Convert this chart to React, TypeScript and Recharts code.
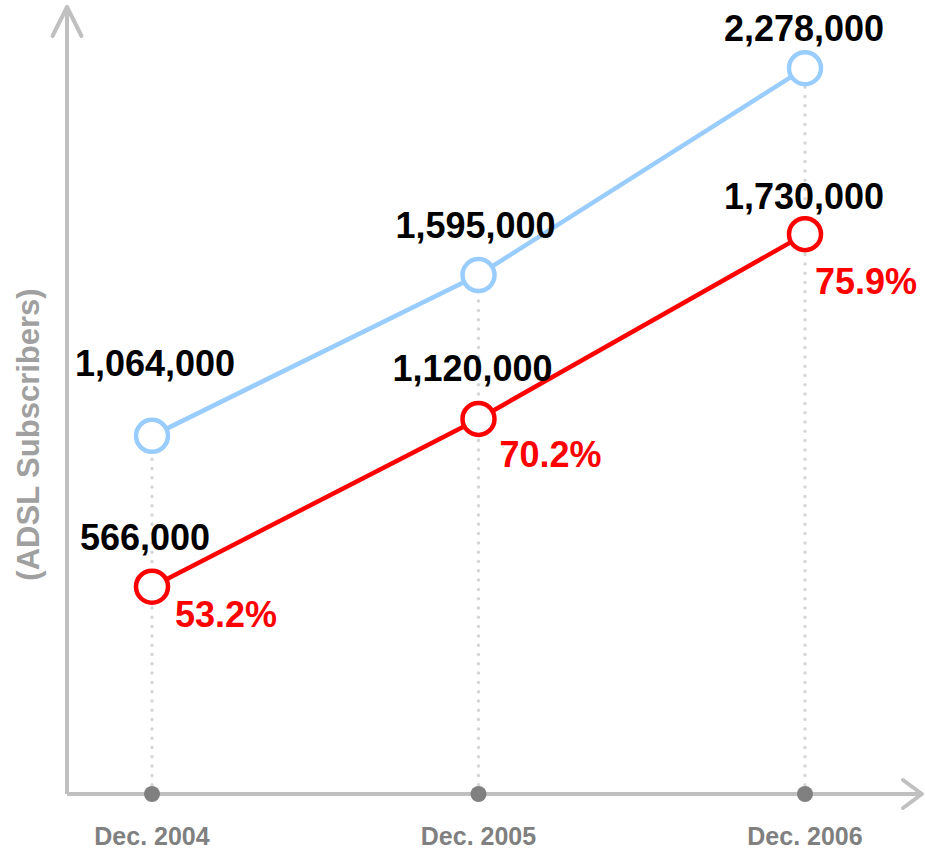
import React from 'react';
import { LineChart, Line, XAxis, YAxis, ReferenceLine, ReferenceDot } from 'recharts';

// ---- data ----
const categories = ['Dec. 2004', 'Dec. 2005', 'Dec. 2006'];
const totalSubscribers = [1064000, 1595000, 2278000];
const adslSubscribers = [566000, 1120000, 1730000];
const adslShare = ['53.2%', '70.2%', '75.9%'];
const yAxisTitle = '(ADSL Subscribers)';

// axis domain (value at x-axis line, value at top of y-axis)
const Y_MIN = -118500;
const Y_MAX = 2480000;

// label offsets relative to each point
const totalLabelOffsets = [
  { dx: 3, dy: -60 },
  { dx: -3, dy: -37 },
  { dx: -1, dy: -27 },
];
const adslLabelOffsets = [
  { dx: -7, dy: -37 },
  { dx: -6, dy: -38 },
  { dx: -1, dy: -25 },
];
const shareLabelOffsets = [
  { dx: 23, dy: 40 },
  { dx: 21, dy: 48 },
  { dx: 10, dy: 60 },
];

const data = categories.map((cat, i) => ({
  cat,
  total: totalSubscribers[i],
  adsl: adslSubscribers[i],
  share: adslShare[i],
}));

const FONT = '"Liberation Sans", Arial, Helvetica, sans-serif';
const BLUE = '#99ccff';
const RED = '#ff0000';
const AXIS = '#c0c0c0';

const fmt = (v: number) => v.toLocaleString('en-US');

const valueStyle = { fontFamily: FONT, fontWeight: 700, fontSize: 36, fill: '#000' } as const;
const shareStyle = { fontFamily: FONT, fontWeight: 700, fontSize: 36, fill: RED } as const;

const renderTotalDot = (props: any) => {
  const { cx, cy, index, value } = props;
  const o = totalLabelOffsets[index];
  return (
    <g key={`t${index}`}>
      <circle cx={cx} cy={cy} r={16} fill="#fff" stroke={BLUE} strokeWidth={4.5} />
      <text x={cx + o.dx} y={cy + o.dy} textAnchor="middle" style={valueStyle}>
        {fmt(value)}
      </text>
    </g>
  );
};

const renderAdslDot = (props: any) => {
  const { cx, cy, index, value, payload } = props;
  const o = adslLabelOffsets[index];
  const s = shareLabelOffsets[index];
  return (
    <g key={`a${index}`}>
      <circle cx={cx} cy={cy} r={16} fill="#fff" stroke={RED} strokeWidth={4.5} />
      <text x={cx + o.dx} y={cy + o.dy} textAnchor="middle" style={valueStyle}>
        {fmt(value)}
      </text>
      <text x={cx + s.dx} y={cy + s.dy} textAnchor="start" style={shareStyle}>
        {payload.share}
      </text>
    </g>
  );
};

const CategoryTick = (props: any) => {
  const { x, y, payload } = props;
  return (
    <text
      x={x}
      y={y + 51}
      textAnchor="middle"
      style={{ fontFamily: FONT, fontWeight: 700, fontSize: 25, fill: '#808080' }}
    >
      {payload.value}
    </text>
  );
};

const YLabel = (props: any) => {
  const vb = props.viewBox || { x: 0, y: 7, width: 67, height: 787 };
  const x = vb.x + 28;
  const y = vb.y + vb.height / 2 + 34;
  return (
    <text
      x={x}
      y={y}
      transform={`rotate(-90 ${x} ${y})`}
      textAnchor="middle"
      dominantBaseline="central"
      style={{ fontFamily: FONT, fontWeight: 700, fontSize: 31, fill: '#a0a0a0' }}
    >
      {yAxisTitle}
    </text>
  );
};

export default function App() {
  return (
    <div style={{ position: 'absolute', left: 0, top: 0, width: 925, height: 852, background: '#fff' }}>
      <svg width={0} height={0} style={{ position: 'absolute' }}>
        <defs>
          <marker
            id="arrowY"
            markerUnits="userSpaceOnUse"
            viewBox="-40 -20 50 40"
            markerWidth={50}
            markerHeight={40}
            refX={0}
            refY={0}
            orient="auto-start-reverse"
            overflow="visible"
          >
            <path d="M -29 -14.5 L 0 0 L -29 14.5" fill="none" stroke={AXIS} strokeWidth={4} strokeLinecap="round" strokeLinejoin="round" />
          </marker>
          <marker
            id="arrowX"
            markerUnits="userSpaceOnUse"
            viewBox="-40 -20 50 40"
            markerWidth={50}
            markerHeight={40}
            refX={0}
            refY={0}
            orient="auto"
            overflow="visible"
          >
            <path d="M -19 -14 L 0 0 L -19 14" fill="none" stroke={AXIS} strokeWidth={4} strokeLinecap="round" strokeLinejoin="round" />
          </marker>
        </defs>
      </svg>
      <LineChart width={925} height={852} data={data} margin={{ top: 7, right: 3, bottom: 0, left: 0 }}>
        <XAxis
          dataKey="cat"
          height={58}
          padding={{ left: 85, right: 117 }}
          tickSize={0}
          tickMargin={0}
          tickLine={false}
          interval={0}
          axisLine={{ stroke: AXIS, strokeWidth: 4, markerEnd: 'url(#arrowX)' } as any}
          tick={<CategoryTick />}
        />
        <YAxis
          type="number"
          width={67}
          domain={[Y_MIN, Y_MAX]}
          allowDataOverflow
          tick={false}
          tickLine={false}
          axisLine={{ stroke: AXIS, strokeWidth: 4, markerStart: 'url(#arrowY)' } as any}
          label={<YLabel />}
        />
        {data.map((d) => (
          <ReferenceLine
            key={`rl-${d.cat}`}
            segment={[{ x: d.cat, y: Y_MIN }, { x: d.cat, y: d.total }]}
            stroke="#d6d6d6"
            strokeWidth={3.5}
            strokeDasharray="0 9.3"
            strokeLinecap="round"
          />
        ))}
        {data.map((d) => (
          <ReferenceDot key={`rd-${d.cat}`} x={d.cat} y={Y_MIN} r={8} fill="#808080" stroke="none" />
        ))}
        <Line
          type="linear"
          dataKey="total"
          stroke={BLUE}
          strokeWidth={4.5}
          dot={renderTotalDot}
          activeDot={false}
          isAnimationActive={false}
        />
        <Line
          type="linear"
          dataKey="adsl"
          stroke={RED}
          strokeWidth={4.5}
          dot={renderAdslDot}
          activeDot={false}
          isAnimationActive={false}
        />
      </LineChart>
    </div>
  );
}
